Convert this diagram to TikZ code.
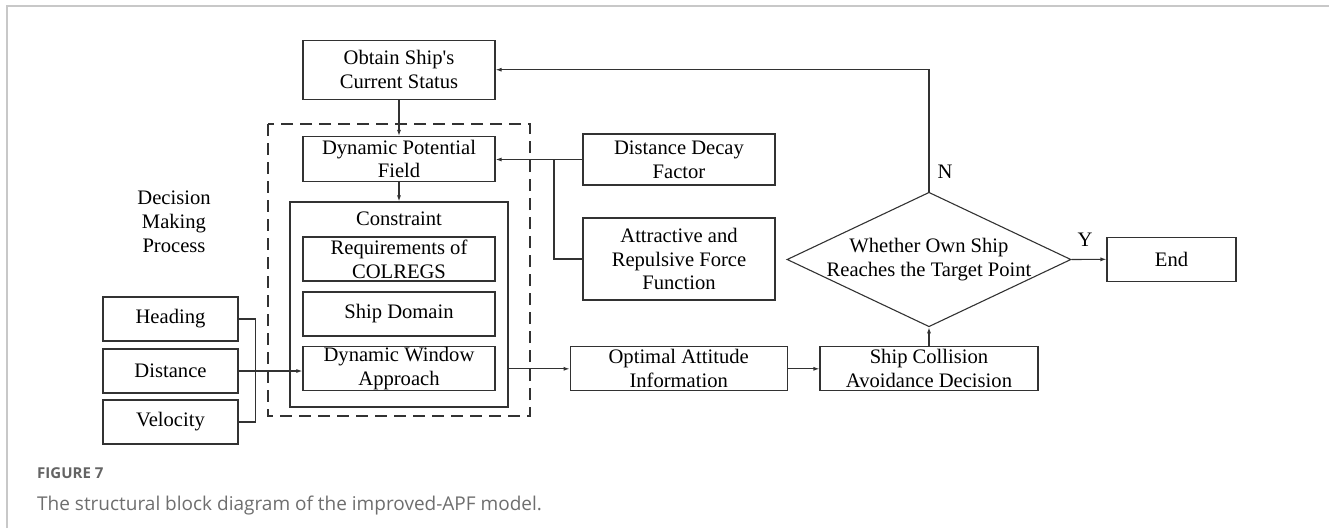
\documentclass[tikz,border=0pt]{standalone}
\usepackage{fontspec}
\setmainfont{Liberation Serif}
\newfontfamily\capfont{Open Sans}
\usetikzlibrary{shapes.geometric,arrows.meta}
\definecolor{ln}{RGB}{50,50,50}
\definecolor{frame}{RGB}{200,200,200}
\definecolor{capgray}{RGB}{110,110,110}
\definecolor{figgray}{RGB}{100,100,100}
\tikzset{
  box/.style={draw=ln, line width=1.1pt, inner sep=0pt, align=center,
    font=\fontsize{20.6}{23.8}\selectfont},
  lbl/.style={inner sep=0pt, align=center, font=\fontsize{20.6}{23.8}\selectfont},
  conn/.style={draw=ln, line width=1.1pt},
  arr/.style={conn, -{Latex[length=6pt,width=4pt]}},
}
\begin{document}
\begin{tikzpicture}[x=1pt,y=-1pt]
\useasboundingbox (0,0) rectangle (1329,528);
% figure frame
\draw[frame, line width=1.5pt] (7,528) -- (7,6) -- (1329,6);

% dashed group
\draw[ln, line width=1.1pt, dash pattern=on 12pt off 7pt] (268,124) rectangle (530,416);

\node[box, minimum width=192pt, minimum height=59pt] (obtain) at (399,69.7) {Obtain Ship\textquotesingle s\\Current Status};
\node[box, minimum width=192pt, minimum height=45pt] (dpf) at (399,159) {Dynamic Potential\\Field};
\node[box, minimum width=218pt, minimum height=205pt] (cons) at (399,304.5) {};
\node[lbl] (conslbl) at (399,219) {Constraint};
\node[box, minimum width=192pt, minimum height=44pt] (req) at (399,259) {Requirements of\\COLREGS};
\node[box, minimum width=192pt, minimum height=44pt] (sd) at (399,314) {Ship Domain};
\node[box, minimum width=192pt, minimum height=44pt] (dwa) at (399,368.5) {Dynamic Window\\Approach};

\node[box, minimum width=135pt, minimum height=44pt] (heading) at (170.5,319) {Heading};
\node[box, minimum width=135pt, minimum height=44pt] (distance) at (170.5,371) {Distance};
\node[box, minimum width=135pt, minimum height=44pt] (velocity) at (170.5,422) {Velocity};
\node[lbl] (dmp) at (174,222) {Decision\\Making\\Process};

\node[box, minimum width=192pt, minimum height=51pt] (ddf) at (679,159.5) {Distance Decay\\Factor};
\node[box, minimum width=192pt, minimum height=82pt] (attr) at (679,259) {Attractive and\\Repulsive Force\\Function};

\node[box, minimum width=217pt, minimum height=44pt] (opt) at (678.7,368.8) {Optimal Attitude\\Information};
\node[box, minimum width=218pt, minimum height=44pt] (sca) at (929,368.8) {Ship Collision\\Avoidance Decision};

\node[diamond, draw=ln, line width=1.1pt, inner sep=0pt, minimum width=284pt, minimum height=134.5pt] (dec) at (929,259.5) {};
\node[lbl] (dectext) at (dec.center) {Whether Own Ship\\Reaches the Target Point};

\node[box, minimum width=129pt, minimum height=44pt] (end) at (1171.5,259.3) {End};

\node[lbl] (nlbl) at (945,172) {N};
\node[lbl] (ylbl) at (1085,240) {Y};

% connectors
\draw[arr] (obtain.south) -- (dpf.north);
\draw[arr] (dpf.south) -- (cons.north);
\draw[arr] (ddf.west) -- (ddf.west -| dpf.east);
\coordinate (br) at (554,0);
\draw[conn] (attr.west) -| (br |- ddf.west);
\draw[conn] (heading.east) -- ++(16.5,0) |- (velocity.east);
\draw[arr] (distance.east) -- (distance.east -| dwa.west);
\draw[arr] (opt.west -| cons.east) -- (opt.west);
\draw[arr] (opt.east) -- (sca.west);
\draw[arr] (sca.north) -- (dec.south);
\draw[arr] (dec.east) -- (end.west);
\draw[arr] (dec.north) |- (obtain.east);

% caption
\node[anchor=base west, inner sep=0pt, text=figgray, font=\capfont\bfseries\fontsize{15}{18}\selectfont] (fig) at (37,478.3) {FIGURE 7};
\node[anchor=base west, inner sep=0pt, text=capgray, font=\capfont\fontsize{19}{23}\selectfont] (cap) at (37,510.7) {The structural block diagram of the improved-APF model.};
\end{tikzpicture}
\end{document}
